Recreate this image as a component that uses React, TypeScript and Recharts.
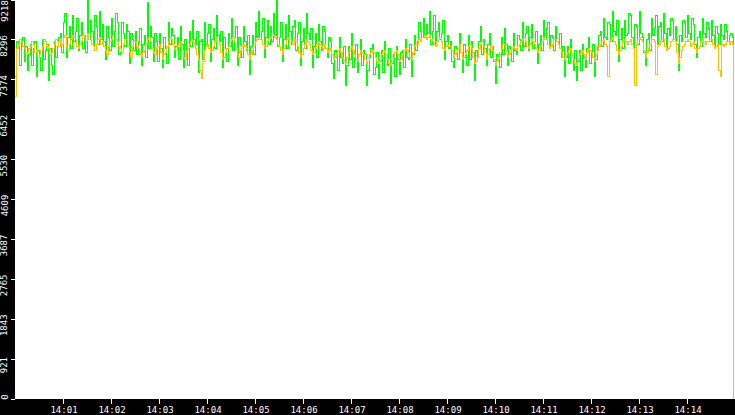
import React from 'react';
import { LineChart, Line, XAxis, YAxis, CartesianGrid } from 'recharts';

// one sample every 1.875 s, from 14:00:00
const SAMPLE_SECONDS = 1.875;

const Y_TICKS = [0, 921, 1843, 2765, 3687, 4609, 5530, 6452, 7374, 8296, 9218];
const TIME_TICKS = [60, 120, 180, 240, 300, 360, 420, 480, 540, 600, 660, 720, 780, 840];
const TIME_LABELS = ['14:01', '14:02', '14:03', '14:04', '14:05', '14:06', '14:07', '14:08', '14:09', '14:10', '14:11', '14:12', '14:13', '14:14'];

const GREEN = [
    // 14:00
    7450, 8250, 8150, 7700, 8250, 8350, 7800, 8150, 7600, 7950, 8200, 7700, 8100, 8250, 7450,
    8050, 7900, 7600, 8300, 7850, 8050, 8200, 7350, 8100, 7700, 7500, 8250, 7900, 8150, 8350,
    8450, 8000, 8700, 8900, 7900, 8350, 8600, 8100, 8850, 8250, 8500, 8800, 8050, 8400, 8700,
    8100, 8400, 8000, 9218, 8300, 8750, 8500, 8150, 8850, 8600, 8200, 8950, 8300, 8650, 8250,
    7850, 8600, 8350, 8050, 8800, 8150, 8500, 8900, 8700, 7950, 8000, 8700, 8450, 8150, 8650,
    8500, 7750, 8450, 8300, 8050,
    8500, 7950, 8250, 8550, 7700, 8200, 8400, 7900, 9150, 8100, 8600, 8350, 7800, 8450, 8250,
    7800, 8450, 8100, 7650, 8350, 8100, 7750, 8700, 8200, 8550, 8400, 7900, 8150, 8350, 7850,
    8600, 8200, 7650, 8300, 8050, 7700, 8500, 8150, 8750, 8300, 8200, 8500, 7550, 8250,
    8300, 7850, 8700, 8200, 8450, 8650, 7800, 8300, 8550, 8100, 8850, 8400, 8250, 8500, 7650,
    8350, 8100, 7800, 8450, 8150, 8800, 8050, 8350, 8600, 7700, 8350, 8200, 7900, 8600, 8250,
    8050, 8400, 7500, 8150, 8400, 7950, 8700, 8350, 8950, 8300,
    // 14:05
    8500, 8800, 7900, 8350, 8750, 8200, 8600, 8250, 8900, 8400, 9218, 8150, 8350, 8700, 7800,
    8300, 8650, 8100, 8850, 8500, 8200, 8600, 8750, 8050, 8450, 8700, 7700, 8250, 8550, 8100,
    8900, 8450, 8300, 8550, 7650, 8150, 8450, 7900, 8650, 8250, 8050, 8600, 8500, 8100, 7900,
    8350,
    8250, 7750, 7400, 8050, 8000, 7600, 8350, 7900, 7750, 8150, 7250, 7700, 8150, 7850, 8450,
    7650, 7900, 8200, 7550, 7950, 8300, 7700, 8050, 7950, 7250, 7600, 7900, 8100,
    8200, 7500, 7650, 8000, 7400, 7800, 8050, 7550, 8250, 7950, 7700, 8100, 7300, 7750, 7950,
    7450, 8150, 7850, 7500, 8000, 8050, 7650, 8300, 7900, 7850, 8200, 7450, 7950, 8400, 8050,
    8250, 8700, 8500, 8350,
    8800, 8350, 8650, 8450, 8950, 8200, 8500, 8850, 8150, 8500, 8700, 8300, 8450, 8750, 7850,
    8250, 8400, 8100,
    // 14:09
    8250, 7800, 7650, 8150, 8100, 7850, 8450, 8000, 7550, 8200, 8000, 7700, 8400, 7850, 8250,
    8000, 7350, 8050, 7900, 8250, 8600, 7950, 8300, 8100, 7700, 8200, 8450, 7900, 8150, 7800,
    7300, 7950, 7850, 7650, 8350, 7950, 8550, 8200, 7700, 8150, 8100, 7800, 8450, 8050, 7950,
    8400, 8300, 8050,
    8700, 8150, 8450, 8600, 8050, 8350, 8650, 8100, 8250, 8500, 7750, 8200, 8400, 8050, 8750,
    8300, 8550, 8700, 8100, 8400, 8350, 8050, 8600, 8250, 8200, 8450,
    7900, 8150, 7450, 7900, 8150, 7750, 8300, 7950, 7600, 8050, 7350, 7800, 8050, 7600, 8200,
    7900, 7650, 8100, 8350, 7750, 8000, 8200, 7450, 7850, 8150, 8400,
    // 14:12
    8500, 8150, 8800, 8350, 8300, 8700, 8650, 8250, 8950, 8500, 8400, 8750, 7800, 8300, 8550,
    8100, 8750, 8400, 8450, 8900, 8850, 8350, 8100, 8650, 8600, 8200, 8950, 8450, 8350, 8000,
    7700, 8300, 8450, 8050, 8800, 8400, 8550, 8850, 8200, 8600, 8700, 8250, 8900, 8450, 8050,
    8550, 8400, 8800, 8750, 8300, 8600, 8200, 7600, 8400, 8250, 8750, 8700, 8350, 8850, 8450,
    8300, 8800, 8650, 8200, 7900, 8350, 8500, 8150, 8800, 8450, 8350, 8700, 8550, 8250, 8750,
    8400, 8150, 8600, 8450, 8200, 8650, 8400, 8300, 8650, 8500, 8250, 8400, 8450, 8350, 4130,
];

const ORANGE = [
    // 14:00
    6980, 8100, 8200, 8300, 8250, 8150, 8100, 7950, 8000, 8100, 8150, 8250, 8200, 8000, 8050,
    7900, 7950, 8050, 8150, 8300, 8250, 8150, 8100, 7950, 8000, 8100, 8200, 8300, 8250, 8150,
    8300, 8200, 8350, 8400, 8150, 8050, 8200, 8300, 8400, 8350, 8300, 8150, 8100, 8200, 8250,
    8400, 8350, 8250, 8450, 8300, 8300, 8200, 8150, 8050, 8200, 8300, 8350, 8200, 8250, 8150,
    8050, 7950, 8150, 8250, 8300, 8400, 8400, 8300, 8250, 8150, 8100, 8000, 8200, 8300, 8300,
    8150, 8000, 7900, 8150, 8250,
    8250, 8150, 8100, 7950, 7900, 8000, 8050, 8200, 8300, 8350, 8250, 8100, 8000, 7950, 8100,
    8150, 8200, 8000, 7850, 7950, 8000, 8150, 8250, 8350, 8300, 8200, 8100, 8050, 8150, 8200,
    8250, 8050, 7900, 7850, 8000, 8100, 8200, 8250, 8300, 8200, 8100, 7950, 7850, 7600,
    7400, 7800, 8050, 8150, 8200, 8100, 8000, 8050, 8150, 8250, 8350, 8250, 8200, 8000, 7850,
    7900, 8000, 8100, 8150, 8250, 8300, 8350, 8250, 8100, 7950, 7900, 8050, 8150, 8200, 8150,
    8100, 7950, 7850, 7950, 8050, 8200, 8250, 8300, 8350, 8300,
    // 14:05
    8300, 8200, 8100, 8150, 8250, 8300, 8350, 8450, 8400, 8350, 8300, 8200, 8150, 8050, 7950,
    8100, 8200, 8300, 8350, 8300, 8250, 8200, 8300, 8250, 8150, 8000, 7900, 7950, 8100, 8200,
    8300, 8250, 8200, 8050, 7950, 8000, 8100, 8200, 8250, 8200, 8150, 8100, 8200, 8100, 8000,
    8050,
    8100, 7950, 7850, 7900, 7950, 8050, 8100, 8000, 7900, 7800, 7750, 7900, 8000, 8100, 8150,
    8050, 7950, 7850, 7800, 7950, 8050, 8000, 7950, 7850, 7750, 7800, 7950, 8000,
    8050, 8000, 7900, 7800, 7750, 7850, 7950, 8000, 8050, 7950, 7850, 7750, 7700, 7800, 7900,
    8000, 8050, 7950, 7800, 7850, 7950, 8050, 8100, 8050, 8000, 7900, 7850, 8000, 8150, 8200,
    8200, 8300, 8250, 8350,
    8350, 8400, 8300, 8350, 8400, 8300, 8250, 8200, 8150, 8250, 8300, 8350, 8250, 8100, 8050,
    8150, 8200, 8150,
    // 14:09
    8150, 8050, 7900, 7950, 8000, 8100, 8200, 8000, 7850, 7900, 7950, 8050, 8150, 8200, 8100,
    7900, 7750, 7800, 7900, 8100, 8200, 8250, 8150, 8000, 7850, 7950, 8100, 8150, 8050, 7850,
    7700, 7800, 7900, 8000, 8100, 8200, 8200, 8050, 7900, 7950, 8000, 8100, 8150, 8100, 8050,
    8150, 8200, 8250,
    8300, 8350, 8250, 8150, 8100, 8200, 8300, 8250, 8200, 8100, 8000, 8050, 8150, 8250, 8350,
    8300, 8300, 8200, 8100, 8150, 8200, 8300, 8300, 8250, 8200, 8100,
    8000, 7900, 7850, 7950, 8000, 8050, 8100, 7950, 7850, 7750, 7700, 7850, 7950, 8000, 8050,
    7950, 7850, 8000, 8100, 8050, 8000, 7900, 7800, 7950, 8050, 8150,
    // 14:12
    8200, 8250, 8300, 8200, 8150, 7450, 8250, 8300, 8350, 8250, 8200, 8050, 7950, 8050, 8150,
    8250, 8300, 8250, 8200, 8250, 8300, 8200, 8100, 7250, 8200, 8300, 8350, 8300, 8250, 8050,
    7900, 8000, 8100, 8200, 8300, 8300, 8250, 7500, 8150, 8200, 8250, 8300, 8300, 8150, 8050,
    8100, 8150, 8250, 8300, 8300, 8250, 8000, 7750, 7900, 8050, 8150, 8200, 8250, 8300, 8250,
    8150, 8200, 8250, 8100, 8000, 8100, 8150, 8250, 8300, 8250, 8200, 8250, 8250, 8300, 8300,
    8200, 8100, 8150, 8200, 7600, 7450, 8200, 8150, 8200, 8250, 8250, 8200, 8250, 8200, 0,
];

const rows = GREEN.map((g, i) => ({ t: i * SAMPLE_SECONDS, green: g, orange: ORANGE[i] }));

const FONT = '"DejaVu Sans Mono", monospace';

function YTick(props: any) {
    const { y, payload } = props;
    // label sits a little below its tick, kept inside the band
    const cy = Math.max(11, Math.min(y + 6, 397));
    return (
        <g>
            <line x1={11} x2={15} y1={y} y2={y} stroke="#fff" shapeRendering="crispEdges" />
            <text
                x={4.5}
                y={cy}
                transform={`rotate(-90 4.5 ${cy})`}
                textAnchor="middle"
                dominantBaseline="central"
                fill="#fff"
                fontFamily={FONT}
                fontSize={9}
            >
                {payload.value}
            </text>
        </g>
    );
}

function XTick(props: any) {
    const { x, payload } = props;
    const idx = TIME_TICKS.indexOf(payload.value);
    return (
        <g>
            <line x1={x} x2={x} y1={399} y2={404} stroke="#fff" shapeRendering="crispEdges" />
            <text x={x + 1} y={413} textAnchor="middle" fill="#fff" fontFamily={FONT} fontSize={9}>
                {TIME_LABELS[idx]}
            </text>
        </g>
    );
}

export default function App() {
    return (
        <div style={{ position: 'absolute', left: 0, top: 0, width: 735, height: 415, background: '#000' }}>
            <LineChart width={735} height={415} data={rows} margin={{ top: 0, right: 0, bottom: 0, left: 0 }}>
                <CartesianGrid fill="#fff" stroke="none" horizontal={false} vertical={false} />
                <XAxis
                    dataKey="t"
                    type="number"
                    domain={[0, 900]}
                    ticks={TIME_TICKS}
                    interval={0}
                    height={16}
                    axisLine={false}
                    tickLine={false}
                    tick={<XTick />}
                />
                <YAxis
                    type="number"
                    domain={[0, 9218]}
                    ticks={Y_TICKS}
                    interval={0}
                    width={15}
                    axisLine={false}
                    tickLine={false}
                    tick={<YTick />}
                />
                <Line
                    type="stepAfter"
                    dataKey="green"
                    stroke="#00ff00"
                    strokeWidth={1}
                    dot={false}
                    shapeRendering="crispEdges"
                    isAnimationActive={false}
                />
                <Line
                    type="stepAfter"
                    dataKey="orange"
                    stroke="#ffc000"
                    strokeWidth={1}
                    dot={false}
                    shapeRendering="crispEdges"
                    isAnimationActive={false}
                />
            </LineChart>
        </div>
    );
}
